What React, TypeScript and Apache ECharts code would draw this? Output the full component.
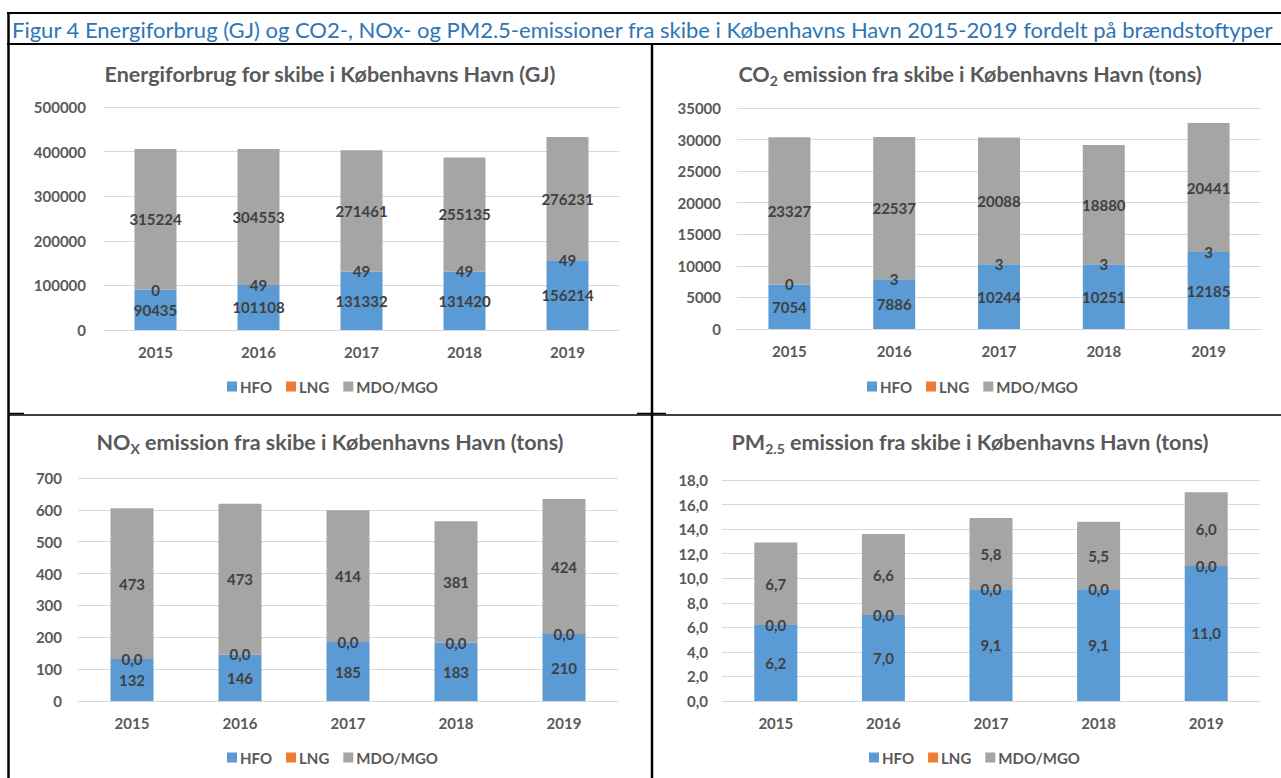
import React, { useEffect, useRef } from "react";
import * as echarts from "echarts";

const years = ["2015", "2016", "2017", "2018", "2019"];
const legendNames = ["HFO", "LNG", "MDO/MGO"];

const energyHFO = [90435, 101108, 131332, 131420, 156214];
const energyLNG = [0, 49, 49, 49, 49];
const energyMDO = [315224, 304553, 271461, 255135, 276231];

const co2HFO = [7054, 7886, 10244, 10251, 12185];
const co2LNG = [0, 3, 3, 3, 3];
const co2MDO = [23327, 22537, 20088, 18880, 20441];

const noxHFO = [132, 146, 185, 183, 210];
const noxLNG = [0, 0, 0, 0, 0];
const noxMDO = [473, 473, 414, 381, 424];

const pmHFO = [6.2, 7.0, 9.1, 9.1, 11.0];
const pmLNG = [0, 0, 0, 0, 0];
const pmMDO = [6.7, 6.6, 5.8, 5.5, 6.0];

const mainTitle =
  "Figur 4 Energiforbrug (GJ) og CO2-, NOx- og PM2.5-emissioner fra skibe i Københavns Havn 2015-2019 fordelt på brændstoftyper";

const FONT = "Lato, 'Open Sans', sans-serif";
const COLORS = ["#5B9BD5", "#ED7D31", "#A5A5A5"];
const AXIS_COLOR = "#595959";
const LABEL_COLOR = "#404040";
const GRID_COLOR = "#D9D9D9";
const FS = 15;

const intFmt = (v: number) => String(Math.round(v));
const decFmt = (v: number) => v.toFixed(1).replace(".", ",");

export default function App() {
  const ref = useRef<HTMLDivElement>(null);

  useEffect(() => {
    if (!ref.current) return;
    const chart = echarts.init(ref.current, null, { renderer: "svg" });

    const grids = [
      { left: 104, top: 107, width: 515, height: 223 },
      { left: 737, top: 108, width: 524, height: 221 },
      { left: 78, top: 478, width: 540, height: 223 },
      { left: 722, top: 480, width: 538, height: 221 },
    ];

    const yCfg = [
      { max: 500000, interval: 100000, fmt: intFmt, margin: 18 },
      { max: 35000, interval: 5000, fmt: intFmt, margin: 16 },
      { max: 700, interval: 100, fmt: intFmt, margin: 16 },
      { max: 18, interval: 2, fmt: decFmt, margin: 14 },
    ];

    const dataSets = [
      [energyHFO, energyLNG, energyMDO],
      [co2HFO, co2LNG, co2MDO],
      [noxHFO, noxLNG, noxMDO],
      [pmHFO, pmLNG, pmMDO],
    ];
    const labelFmts = [
      [intFmt, intFmt, intFmt],
      [intFmt, intFmt, intFmt],
      [intFmt, decFmt, intFmt],
      [decFmt, decFmt, decFmt],
    ];
    const barWidths = [42, 42, 43, 43];

    const series: any[] = [];
    dataSets.forEach((set, gi) => {
      set.forEach((arr, si) => {
        series.push({
          type: "bar",
          name: legendNames[si],
          xAxisIndex: gi,
          yAxisIndex: gi,
          stack: "s" + gi,
          data: arr,
          barWidth: barWidths[gi],
          itemStyle: { color: COLORS[si] },
          label: {
            show: true,
            position: "inside",
            color: LABEL_COLOR,
            fontFamily: FONT,
            fontWeight: "bold",
            fontSize: FS,
            formatter: (p: any) => labelFmts[gi][si](p.value),
          },
        });
      });
    });

    const titleRich = {
      b: { fontSize: 21.5, fontWeight: "bold", color: AXIS_COLOR, fontFamily: FONT, lineHeight: 26 },
      s: {
        fontSize: 14,
        fontWeight: "bold",
        color: AXIS_COLOR,
        fontFamily: FONT,
        lineHeight: 14,
        verticalAlign: "bottom",
      },
    };
    const titles = [
      { x: 330, y: 61, text: "{b|Energiforbrug for skibe i Københavns Havn (GJ)}" },
      { x: 970, y: 61, text: "{b|CO}{s|2}{b| emission fra skibe i Københavns Havn (tons)}" },
      { x: 330, y: 429, text: "{b|NO}{s|X}{b| emission fra skibe i Københavns Havn (tons)}" },
      { x: 970, y: 429, text: "{b|PM}{s|2.5}{b| emission fra skibe i Københavns Havn (tons)}" },
    ];

    const legendPos = [
      { left: 227, top: 379 },
      { left: 867, top: 379 },
      { left: 227, top: 750 },
      { left: 869, top: 750 },
    ];

    const option: any = {
      animation: false,
      backgroundColor: "#ffffff",
      title: titles.map((t) => ({
        text: t.text,
        left: t.x,
        top: t.y,
        textAlign: "center",
        padding: 0,
        textStyle: { rich: titleRich, fontSize: 21.5, fontWeight: "bold", color: AXIS_COLOR, fontFamily: FONT },
      })),
      legend: legendPos.map((p) => ({
        data: legendNames,
        left: p.left,
        top: p.top,
        icon: "rect",
        itemWidth: 10,
        itemHeight: 10,
        itemGap: 14,
        padding: 0,
        selectedMode: false,
        textStyle: { color: AXIS_COLOR, fontFamily: FONT, fontWeight: "bold", fontSize: FS, padding: [0, 0, 0, -2] },
      })),
      grid: grids,
      xAxis: grids.map((_, i) => ({
        type: "category",
        gridIndex: i,
        data: years,
        axisLine: { lineStyle: { color: GRID_COLOR, width: 1 } },
        axisTick: { show: false },
        axisLabel: { color: AXIS_COLOR, fontFamily: FONT, fontWeight: "bold", fontSize: FS, margin: 14 },
      })),
      yAxis: yCfg.map((c, i) => ({
        type: "value",
        gridIndex: i,
        min: 0,
        max: c.max,
        interval: c.interval,
        axisLine: { show: false },
        axisTick: { show: false },
        splitLine: { lineStyle: { color: GRID_COLOR, width: 1 } },
        axisLabel: {
          color: AXIS_COLOR,
          fontFamily: FONT,
          fontWeight: "bold",
          fontSize: FS,
          margin: c.margin,
          formatter: (v: number) => c.fmt(v),
        },
      })),
      series,
      graphic: [
        {
          type: "text",
          x: 12,
          y: 29,
          style: {
            text: mainTitle,
            fill: "#2E75B6",
            fontFamily: "Lato, sans-serif",
            fontSize: 22,
            verticalAlign: "middle",
            align: "left",
          },
        },
        { type: "line", shape: { x1: 7, y1: 13, x2: 1281, y2: 13 }, style: { stroke: "#000", lineWidth: 2 } },
        { type: "line", shape: { x1: 7, y1: 44, x2: 1281, y2: 44 }, style: { stroke: "#000", lineWidth: 2 } },
        { type: "line", shape: { x1: 8.5, y1: 12, x2: 8.5, y2: 778 }, style: { stroke: "#000", lineWidth: 2.5 } },
        { type: "line", shape: { x1: 652, y1: 44, x2: 652, y2: 778 }, style: { stroke: "#000", lineWidth: 2.5 } },
        { type: "line", shape: { x1: 8, y1: 415, x2: 1281, y2: 415 }, style: { stroke: "#000", lineWidth: 1.5 } },
        { type: "line", shape: { x1: 9, y1: 413.5, x2: 24, y2: 413.5 }, style: { stroke: "#000", lineWidth: 1.5 } },
        { type: "line", shape: { x1: 637, y1: 413.5, x2: 666, y2: 413.5 }, style: { stroke: "#000", lineWidth: 1.5 } },
      ],
    };

    chart.setOption(option);
    return () => chart.dispose();
  }, []);

  return (
    <div
      ref={ref}
      style={{ position: "absolute", left: 0, top: 0, width: 1281, height: 778, background: "#fff" }}
    />
  );
}
